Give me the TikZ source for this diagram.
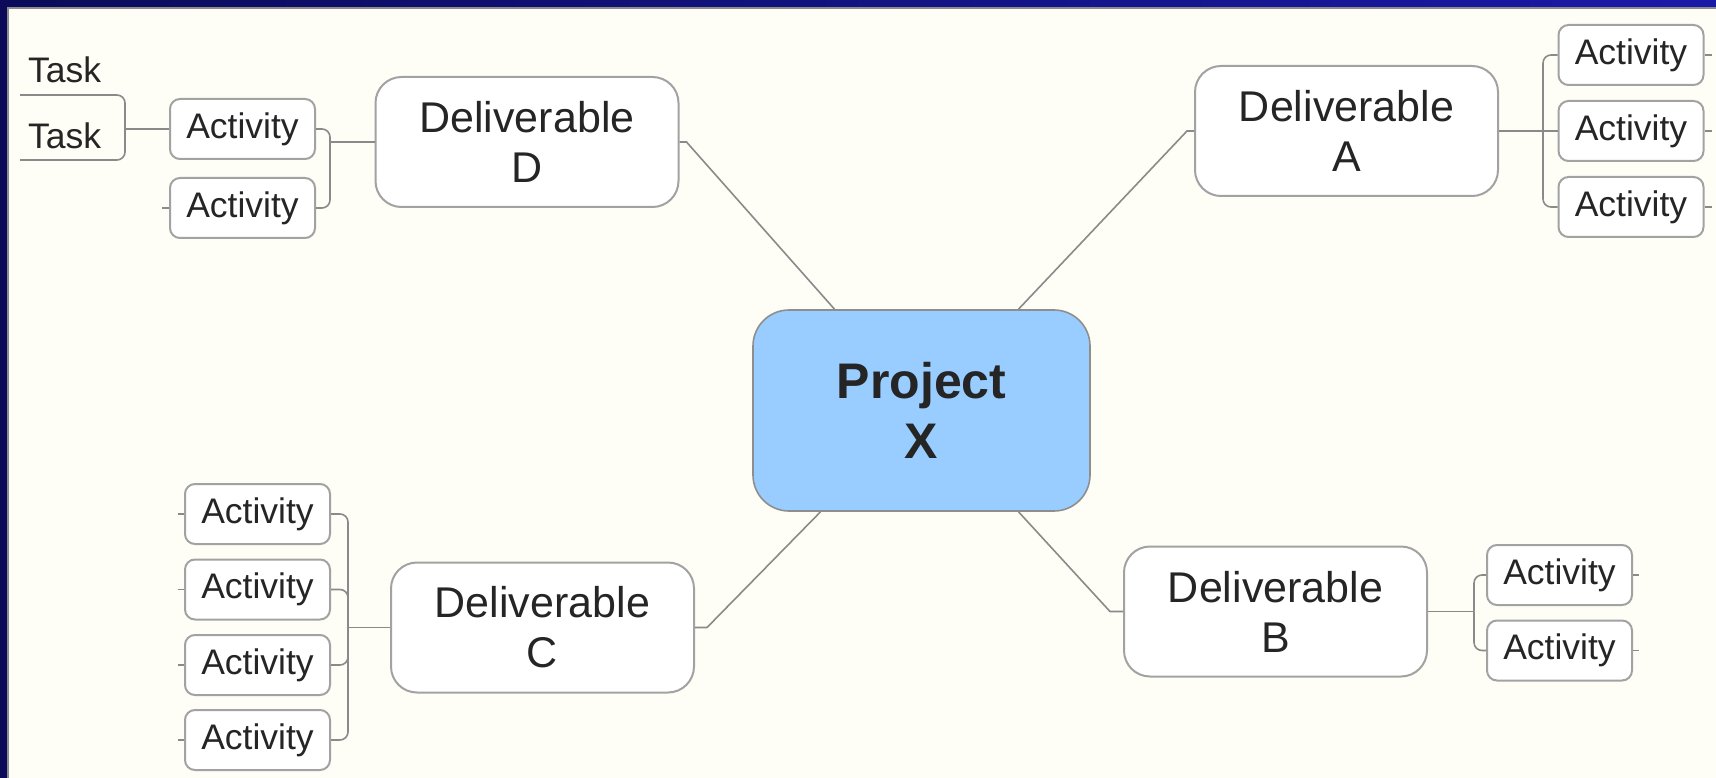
\documentclass[tikz,border=0pt]{standalone}
\usepackage{fontspec}
\setmainfont{Liberation Sans}
\begin{document}
\begin{tikzpicture}[x=1pt,y=-1pt,
  txt/.style={text=textgray},
  link/.style={draw=linegray,line width=1.6pt},
  proj/.style={draw=projedge,line width=1.6pt,fill=projblue,rounded corners=36pt,
    minimum width=337pt,minimum height=201pt,inner sep=0pt,align=center,txt,
    font=\fontsize{50}{60}\selectfont\bfseries},
  deliv/.style={draw=boxgray,line width=2pt,fill=white,rounded corners=26pt,
    minimum width=303pt,minimum height=130pt,inner sep=0pt,align=center,txt,
    font=\fontsize{43}{50}\selectfont},
  act/.style={draw=boxgray,line width=2pt,fill=white,rounded corners=10pt,
    minimum width=145pt,minimum height=60pt,inner sep=0pt,txt,
    font=\fontsize{35.5}{42}\selectfont},
  tasktext/.style={inner sep=0pt,anchor=base west,txt,font=\fontsize{35.5}{42}\selectfont}
]
\definecolor{cream}{HTML}{FEFEF6}
\definecolor{navy}{HTML}{0B0B5A}
\definecolor{navyR}{HTML}{1A1AA8}
\definecolor{edgegray}{HTML}{8C8C8C}
\definecolor{linegray}{HTML}{8A8A8A}
\definecolor{boxgray}{HTML}{A2A2A2}
\definecolor{projedge}{HTML}{8E8E8E}
\definecolor{projblue}{HTML}{99CCFF}
\definecolor{textgray}{HTML}{252525}
\useasboundingbox (0,0) rectangle (1716,778);
% background frame
\fill[navy] (0,0) rectangle (1716,778);
\shade[left color=navy,right color=navyR] (0,0) rectangle (1716,7);
\fill[edgegray] (7,7) rectangle (1716,9);
\fill[edgegray] (7,7) rectangle (9,778);
\fill[cream] (9,9) rectangle (1716,778);

% central node and deliverables
\node[proj] (proj) at (921.5,410.5) {Project\\X};
\node[deliv] (delD) at (527,142) {Deliverable\\D};
\node[deliv] (delA) at (1346.5,131) {Deliverable\\A};
\node[deliv] (delC) at (542.5,627.5) {Deliverable\\C};
\node[deliv] (delB) at (1275.5,611.5) {Deliverable\\B};

% activities
\node[act] (actD1) at (242.5,129) {Activity};
\node[act] (actD2) at (242.5,208) {Activity};
\node[act] (actA1) at (1631,55) {Activity};
\node[act] (actA2) at (1631,131) {Activity};
\node[act] (actA3) at (1631,207) {Activity};
\node[act] (actB1) at (1559.5,575) {Activity};
\node[act] (actB2) at (1559.5,650.5) {Activity};
\node[act] (actC1) at (257.5,514) {Activity};
\node[act] (actC2) at (257.5,589.5) {Activity};
\node[act] (actC3) at (257.5,665) {Activity};
\node[act] (actC4) at (257.5,740) {Activity};

% tasks
\node[tasktext] (task1) at (28,83) {Task};
\node[tasktext] (task2) at (28,149) {Task};
\coordinate (u1) at (20,95);
\coordinate (u2) at (20,160);
\coordinate (hT) at (125,129);
\draw[link,rounded corners=8pt] (u1) -| (hT);
\draw[link,rounded corners=8pt] (u2) -| (hT);
\draw[link] (hT) -- (actD1.west);

% deliverables to project
\draw[link] (delD.east) -- ++(7,0) -- ([xshift=-87pt]proj.north);
\draw[link] (delA.west) -- ++(-7,0) -- ([xshift=97pt]proj.north);
\draw[link] (delC.east) -- ++(12,0) -- ([xshift=-101pt]proj.south);
\draw[link] (delB.west) -- ++(-13,0) -- ([xshift=97pt]proj.south);

% D bracket
\coordinate (hD) at (330,142);
\draw[link] (hD) -- (delD.west);
\draw[link,rounded corners=8pt] (actD1.east) -| (hD);
\draw[link,rounded corners=8pt] (actD2.east) -| (hD);
\draw[link] (actD2.west) -- ++(-7,0);

% A bracket
\coordinate (hA) at (1543,131);
\draw[link] (delA.east) -- (actA2.west);
\draw[link,rounded corners=8pt] (actA1.west) -| (hA);
\draw[link,rounded corners=8pt] (actA3.west) -| (hA);
\foreach \n in {actA1,actA2,actA3} \draw[link] (\n.east) -- ++(7,0);

% B bracket
\coordinate (hB) at (1474,611.5);
\draw[link] (delB.east) -- (hB);
\draw[link,rounded corners=8pt] (actB1.west) -| (hB);
\draw[link,rounded corners=8pt] (actB2.west) -| (hB);
\foreach \n in {actB1,actB2} \draw[link] (\n.east) -- ++(6,0);

% C bracket
\coordinate (hC) at (348,627.5);
\draw[link] (hC) -- (delC.west);
\foreach \n in {actC1,actC2,actC3,actC4} {
  \draw[link,rounded corners=8pt] (\n.east) -| (hC);
  \draw[link] (\n.west) -- ++(-6,0);
}
\end{tikzpicture}
\end{document}
